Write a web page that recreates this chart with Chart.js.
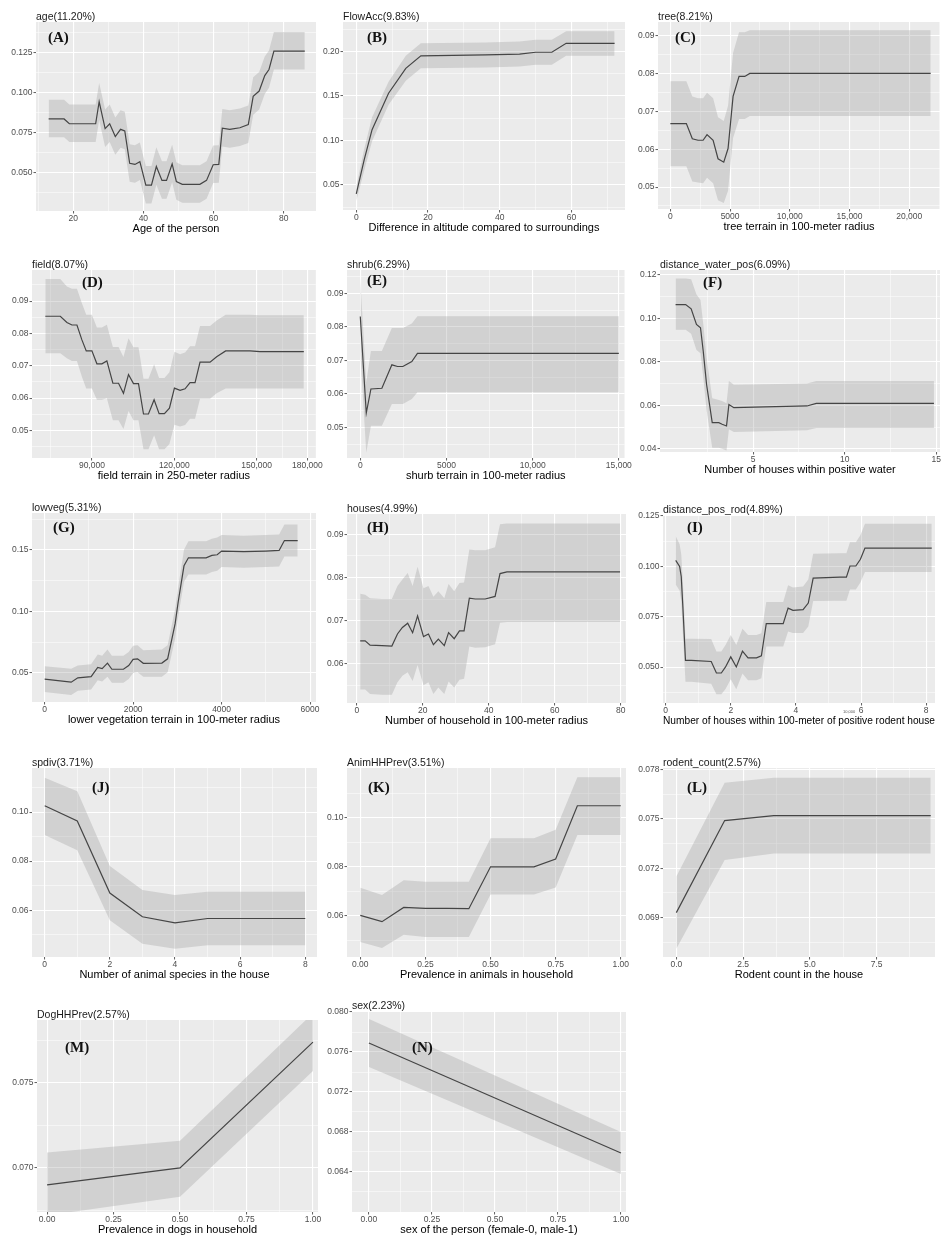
<!DOCTYPE html>
<html><head><meta charset="utf-8">
<script src="https://cdn.jsdelivr.net/npm/chart.js@4.4.0/dist/chart.umd.min.js"></script>
<style>
html,body{margin:0;padding:0;background:#fff;}
body{width:942px;height:1248px;position:relative;overflow:hidden;font-family:"Liberation Sans",Arial,sans-serif;}
.ttl{position:absolute;font-size:10.5px;color:#1a1a1a;white-space:nowrap;line-height:1;}
.let{position:absolute;font-family:"Liberation Serif","Times New Roman",serif;font-weight:bold;font-size:15px;color:#111;line-height:1;white-space:nowrap;}
.tiny{position:absolute;font-size:4px;color:#555;line-height:1;}
canvas{position:absolute;}
</style></head><body>
<script>
// ---------- DATA ----------
// (A) age
const ageX = [13,17.4,18.9,26.4,27.4,29.1,30.4,32,33.5,34.7,36.1,37.6,39,40.7,42.3,43.7,45.3,46.6,48.2,49.4,51.1,56.1,58,59.9,61.5,62.5,64.6,67.5,69.9,71.3,73,74.6,75.8,77.2,86];
const ageMean = [0.0835,0.0835,0.0805,0.0805,0.0943,0.0775,0.0805,0.0725,0.077,0.076,0.0557,0.055,0.0567,0.042,0.042,0.0537,0.045,0.045,0.0553,0.0443,0.0425,0.0425,0.045,0.0548,0.055,0.0777,0.077,0.078,0.080,0.0977,0.101,0.1107,0.1145,0.126,0.126];
const ageHi = [0.0955,0.0955,0.0925,0.0925,0.106,0.0895,0.0925,0.0845,0.089,0.088,0.0677,0.067,0.0687,0.054,0.054,0.0657,0.057,0.057,0.0673,0.0563,0.0545,0.0545,0.057,0.0668,0.067,0.0897,0.089,0.090,0.092,0.1097,0.113,0.1227,0.1265,0.138,0.138];
const ageLo = [0.072,0.072,0.069,0.069,0.0828,0.066,0.069,0.061,0.0655,0.0645,0.0442,0.0435,0.0452,0.0305,0.0305,0.0422,0.0335,0.0335,0.0438,0.0328,0.031,0.031,0.0335,0.0433,0.0435,0.0662,0.0655,0.0665,0.0685,0.0862,0.0895,0.0992,0.103,0.1145,0.1145];
const ageXTicks = [20,40,60,80], ageXLabels = ['20','40','60','80'];
const ageYTicks = [0.05,0.075,0.1,0.125], ageYLabels = ['0.050','0.075','0.100','0.125'];

// (B) FlowAcc
const flowX = [0,2.2,4.4,9,13.8,18,36,45.5,50,54.5,58.5,72];
const flowMean = [0.040,0.078,0.112,0.153,0.181,0.195,0.196,0.197,0.199,0.199,0.209,0.209];
const flowHi = [0.048,0.09,0.126,0.166,0.195,0.209,0.21,0.211,0.213,0.213,0.2225,0.2225];
const flowLo = [0.032,0.066,0.099,0.14,0.167,0.181,0.182,0.183,0.185,0.185,0.195,0.195];
const flowXTicks = [0,20,40,60], flowXLabels = ['0','20','40','60'];
const flowYTicks = [0.05,0.10,0.15,0.20], flowYLabels = ['0.05','0.10','0.15','0.20'];

// (C) tree
const treeX = [0,1340,1840,2320,2740,3070,3580,3990,4470,4830,5250,5750,6230,6650,21790];
const treeMean = [0.0668,0.0668,0.0628,0.0624,0.0624,0.0639,0.0624,0.0575,0.0566,0.0602,0.0740,0.0793,0.0793,0.0801,0.0801];
const treeHi = [0.078,0.078,0.074,0.0735,0.0735,0.075,0.0735,0.0685,0.0675,0.0715,0.0855,0.091,0.091,0.0915,0.0915];
const treeLo = [0.0555,0.0555,0.0515,0.0512,0.051,0.0525,0.051,0.0465,0.0458,0.049,0.063,0.068,0.068,0.0688,0.0688];
const treeXTicks = [0,5000,10000,15000,20000], treeXLabels = ['0','5000','10,000','15,000','20,000'];
const treeYTicks = [0.05,0.06,0.07,0.08,0.09], treeYLabels = ['0.05','0.06','0.07','0.08','0.09'];

// (D) field
const fieldX = [73030,78490,80900,82730,84550,86360,87940,90000,91820,93640,95450,97640,99700,101500,103330,105150,106970,108790,110600,112660,114480,116420,118240,120060,122120,123940,125750,127570,129390,133030,135450,138720,147570,151200,167200];
const fieldMean = [0.0853,0.0853,0.0834,0.0826,0.0826,0.078,0.0746,0.0746,0.0706,0.0706,0.0715,0.0646,0.0646,0.0615,0.0673,0.0645,0.0645,0.0551,0.0551,0.0595,0.0552,0.0552,0.0569,0.0631,0.0624,0.0629,0.0648,0.0648,0.0711,0.0711,0.0728,0.0746,0.0746,0.0744,0.0744];
const fieldHi = [0.0968,0.0968,0.0945,0.0938,0.0938,0.0893,0.0858,0.0858,0.0818,0.0818,0.0827,0.0758,0.0758,0.0727,0.0785,0.0757,0.0757,0.066,0.066,0.0705,0.0662,0.0662,0.068,0.0743,0.0736,0.0741,0.076,0.076,0.0823,0.0823,0.084,0.0858,0.0858,0.0856,0.0856];
const fieldLo = [0.0739,0.0739,0.0723,0.0715,0.0715,0.0666,0.063,0.063,0.0595,0.0595,0.06,0.0532,0.0532,0.0505,0.056,0.0532,0.0532,0.0442,0.0442,0.0485,0.0442,0.0442,0.0458,0.0518,0.0512,0.0517,0.0536,0.0536,0.0598,0.0598,0.0615,0.063,0.063,0.063,0.063];
const fieldXTicks = [90000,120000,150000,168500], fieldXLabels = ['90,000','120,000','150,000','180,000'];
const fieldYTicks = [0.05,0.06,0.07,0.08,0.09], fieldYLabels = ['0.05','0.06','0.07','0.08','0.09'];

// (E) shrub
const shrubX = [0,347,617,1253,1832,2160,2470,2990,3316,15000];
const shrubMean = [0.0831,0.0543,0.0615,0.0617,0.0687,0.0682,0.0682,0.0697,0.0721,0.0721];
const shrubHi = [0.0945,0.0635,0.0728,0.0728,0.0797,0.0797,0.0797,0.081,0.0832,0.0832];
const shrubLo = [0.072,0.0425,0.0505,0.0505,0.057,0.057,0.057,0.0585,0.0605,0.0605];
const shrubXTicks = [0,5000,10000,15000], shrubXLabels = ['0','5000','10,000','15,000'];
const shrubYTicks = [0.05,0.06,0.07,0.08,0.09], shrubYLabels = ['0.05','0.06','0.07','0.08','0.09'];

// (F) distance_water_pos
const waterX = [0.77,1.32,1.62,1.91,2.13,2.28,2.46,2.77,3.13,3.31,3.55,3.68,3.95,7.94,8.45,14.87];
const waterMean = [0.1064,0.1064,0.1044,0.0972,0.0957,0.0849,0.0697,0.052,0.052,0.0513,0.0505,0.0604,0.0589,0.0597,0.0609,0.0609];
const waterHi = [0.1184,0.1184,0.118,0.111,0.1085,0.0975,0.082,0.0632,0.0625,0.062,0.061,0.0712,0.0695,0.07,0.0712,0.0712];
const waterLo = [0.0948,0.0948,0.093,0.0855,0.084,0.073,0.058,0.0405,0.0405,0.04,0.0392,0.049,0.0477,0.0485,0.0496,0.0496];
const waterXTicks = [5,10,15], waterXLabels = ['5','10','15'];
const waterYTicks = [0.04,0.06,0.08,0.10,0.12], waterYLabels = ['0.04','0.06','0.08','0.10','0.12'];

// (G) lowveg
const lowX = [0,300,600,750,1050,1200,1300,1420,1520,1780,1900,2000,2100,2230,2650,2780,2950,3020,3150,3250,3650,3780,3900,4000,4500,5000,5300,5420,5720];
const lowMean = [0.045,0.0438,0.0425,0.046,0.047,0.0545,0.0535,0.058,0.053,0.053,0.056,0.061,0.0615,0.0578,0.058,0.0615,0.09,0.108,0.137,0.1435,0.1435,0.1455,0.146,0.149,0.1485,0.149,0.1495,0.1575,0.1575];
const lowHi = [0.0555,0.0545,0.0535,0.056,0.057,0.065,0.064,0.069,0.064,0.064,0.067,0.072,0.0725,0.0685,0.069,0.0725,0.102,0.12,0.15,0.157,0.157,0.159,0.16,0.162,0.1615,0.162,0.1625,0.1705,0.1705];
const lowLo = [0.0345,0.0333,0.032,0.0355,0.0365,0.044,0.043,0.047,0.042,0.042,0.045,0.050,0.0505,0.047,0.047,0.0505,0.078,0.096,0.124,0.130,0.130,0.132,0.133,0.136,0.1355,0.136,0.1365,0.1445,0.1445];
const lowXTicks = [0,2000,4000,6000], lowXLabels = ['0','2000','4000','6000'];
const lowYTicks = [0.05,0.10,0.15], lowYLabels = ['0.05','0.10','0.15'];

// (H) houses
const housesX = [1,2.5,4,7.6,10.6,12.3,13.8,15.4,16.9,18.4,20.2,21.7,23.2,24.7,26.5,27.8,29.5,31.1,32.5,34.1,35.9,38.9,41.9,43.4,45.5,79.8];
const housesMean = [0.0653,0.0653,0.0643,0.0642,0.0641,0.0669,0.0684,0.0694,0.0672,0.0711,0.0663,0.0669,0.0644,0.0657,0.0642,0.0672,0.0658,0.0676,0.0676,0.0752,0.075,0.075,0.0756,0.0809,0.0813,0.0813];
const housesHi = [0.0762,0.076,0.0752,0.075,0.075,0.078,0.0795,0.081,0.078,0.0825,0.0775,0.078,0.0755,0.0768,0.0752,0.0785,0.0768,0.0787,0.0788,0.0865,0.0863,0.0863,0.087,0.0923,0.0925,0.0925];
const housesLo = [0.054,0.054,0.053,0.0528,0.0528,0.0557,0.0572,0.058,0.056,0.0597,0.055,0.0557,0.053,0.0545,0.053,0.0559,0.0545,0.0563,0.0565,0.064,0.0637,0.0638,0.0645,0.0695,0.0697,0.0697];
const housesXTicks = [0,20,40,60,80], housesXLabels = ['0','20','40','60','80'];
const housesYTicks = [0.06,0.07,0.08,0.09], housesYLabels = ['0.06','0.07','0.08','0.09'];

// (I) distance_pos_rod
const rodDistX = [0.31,0.43,0.48,0.53,0.61,0.79,1.40,1.56,1.71,1.84,2.0,2.17,2.36,2.53,2.79,2.94,3.09,3.40,3.61,3.76,3.91,4.22,4.38,4.53,5.35,5.55,5.66,5.84,5.98,6.12,8.17];
const rodDistMean = [0.103,0.100,0.095,0.0798,0.0534,0.0534,0.0528,0.0471,0.0471,0.0501,0.0551,0.0501,0.0579,0.0546,0.0546,0.0556,0.0716,0.0716,0.0716,0.0793,0.0782,0.0785,0.0818,0.0942,0.0947,0.0947,0.1002,0.1002,0.1035,0.1091,0.1091];
const rodDistHi = [0.115,0.111,0.106,0.092,0.0641,0.0641,0.064,0.0578,0.0578,0.061,0.066,0.061,0.069,0.066,0.066,0.0668,0.0823,0.0823,0.0823,0.0906,0.0895,0.09,0.0935,0.1063,0.1065,0.1065,0.112,0.112,0.1155,0.1211,0.1211];
const rodDistLo = [0.091,0.088,0.083,0.067,0.0427,0.0427,0.0418,0.0365,0.0365,0.0392,0.044,0.039,0.0468,0.0435,0.0435,0.0445,0.0603,0.0603,0.0603,0.0677,0.067,0.067,0.0702,0.0828,0.083,0.083,0.0885,0.0885,0.092,0.0972,0.0972];
const rodDistXTicks = [0,2,4,6,8], rodDistXLabels = ['0','2','4','6','8'];
const rodDistYTicks = [0.05,0.075,0.1,0.125], rodDistYLabels = ['0.050','0.075','0.100','0.125'];

// (J) spdiv
const spX = [0,1,2,3,4,5,6,7,8];
const spMean = [0.1026,0.0964,0.067,0.0573,0.0548,0.0566,0.0566,0.0566,0.0566];
const spHi = [0.114,0.1085,0.078,0.0682,0.0662,0.0675,0.0675,0.0675,0.0675];
const spLo = [0.0907,0.0844,0.0559,0.0463,0.0443,0.0457,0.0457,0.0457,0.0457];
const spXTicks = [0,2,4,6,8], spXLabels = ['0','2','4','6','8'];
const spYTicks = [0.06,0.08,0.10], spYLabels = ['0.06','0.08','0.10'];

// (K) AnimHHPrev
const animX = [0,0.0833,0.1667,0.25,0.3333,0.4167,0.5,0.5833,0.6667,0.75,0.8333,0.9167,1];
const animMean = [0.0601,0.0575,0.0633,0.0629,0.0629,0.0628,0.0799,0.0799,0.0799,0.0831,0.1048,0.1048,0.1048];
const animHi = [0.0714,0.0684,0.0744,0.0738,0.0738,0.0738,0.0915,0.0915,0.0915,0.095,0.1164,0.1164,0.1164];
const animLo = [0.0492,0.0468,0.0522,0.0513,0.0513,0.0513,0.0686,0.0686,0.0686,0.0715,0.0929,0.0929,0.0929];
const propXTicks = [0,0.25,0.5,0.75,1], propXLabels = ['0.00','0.25','0.50','0.75','1.00'];
const animYTicks = [0.06,0.08,0.10], animYLabels = ['0.06','0.08','0.10'];

// (L) rodent_count
const rodX = [0,1.81,3.65,9.53];
const rodMean = [0.0693,0.0749,0.0752,0.0752];
const rodHi = [0.0715,0.0772,0.0775,0.0775];
const rodLo = [0.0671,0.0725,0.0729,0.0729];
const rodXTicks = [0,2.5,5,7.5], rodXLabels = ['0.0','2.5','5.0','7.5'];
const rodYTicks = [0.069,0.072,0.075,0.078], rodYLabels = ['0.069','0.072','0.075','0.078'];

// (M) DogHHPrev
const dogX = [0,0.5,1];
const dogMean = [0.0690,0.0700,0.0774];
const dogHi = [0.0709,0.0716,0.0791];
const dogLo = [0.0672,0.0683,0.0757];
const dogYTicks = [0.070,0.075], dogYLabels = ['0.070','0.075'];

// (N) sex
const sexX = [0,1];
const sexMean = [0.0769,0.0659];
const sexHi = [0.0793,0.0680];
const sexLo = [0.0745,0.0638];
const sexYTicks = [0.064,0.068,0.072,0.076,0.080], sexYLabels = ['0.064','0.068','0.072','0.076','0.080'];

// ---------- LAYOUT ----------
const panels = [
 {title:'age(11.20%)', letter:'(A)', lp:[48,30], xTitle:'Age of the person', box:[36,22,316,211], xr:[9.4,89.2], yr:[0.0258,0.1443],
  x:ageX, m:ageMean, hi:ageHi, lo:ageLo, xt:ageXTicks, xl:ageXLabels, yt:ageYTicks, yl:ageYLabels},
 {title:'FlowAcc(9.83%)', letter:'(B)', lp:[367,30], xTitle:'Difference in altitude compared to surroundings', box:[343,22,625,210], xr:[-3.7,74.9], yr:[0.0218,0.233],
  x:flowX, m:flowMean, hi:flowHi, lo:flowLo, xt:flowXTicks, xl:flowXLabels, yt:flowYTicks, yl:flowYLabels},
 {title:'tree(8.21%)', letter:'(C)', lp:[675,30], xTitle:'tree terrain in 100-meter radius', box:[658,22,940,209], xr:[-1034,22570], yr:[0.0442,0.0937],
  x:treeX, m:treeMean, hi:treeHi, lo:treeLo, xt:treeXTicks, xl:treeXLabels, yt:treeYTicks, yl:treeYLabels},
 {title:'field(8.07%)', letter:'(D)', lp:[82,275], xTitle:'field terrain in 250-meter radius', box:[32,270,316,458], xr:[68180,171575], yr:[0.0415,0.0996],
  x:fieldX, m:fieldMean, hi:fieldHi, lo:fieldLo, xt:fieldXTicks, xl:fieldXLabels, yt:fieldYTicks, yl:fieldYLabels},
 {title:'shrub(6.29%)', letter:'(E)', lp:[367,273], xTitle:'shurb terrain in 100-meter radius', box:[347,270,625,458], xr:[-771,15330], yr:[0.0409,0.097],
  x:shrubX, m:shrubMean, hi:shrubHi, lo:shrubLo, xt:shrubXTicks, xl:shrubXLabels, yt:shrubYTicks, yl:shrubYLabels},
 {title:'distance_water_pos(6.09%)', letter:'(F)', lp:[703,275], xTitle:'Number of houses within positive water', box:[660,270,940,452], xr:[-0.08,15.2], yr:[0.0385,0.1223],
  x:waterX, m:waterMean, hi:waterHi, lo:waterLo, xt:waterXTicks, xl:waterXLabels, yt:waterYTicks, yl:waterYLabels},
 {title:'lowveg(5.31%)', letter:'(G)', lp:[53,520], xTitle:'lower vegetation terrain in 100-meter radius', box:[32,513,316,702], xr:[-286,6134], yr:[0.0264,0.1799],
  x:lowX, m:lowMean, hi:lowHi, lo:lowLo, xt:lowXTicks, xl:lowXLabels, yt:lowYTicks, yl:lowYLabels},
 {title:'houses(4.99%)', letter:'(H)', lp:[367,520], xTitle:'Number of household in 100-meter radius', box:[347,514,626,703], xr:[-3.0,81.6], yr:[0.0509,0.0947],
  x:housesX, m:housesMean, hi:housesHi, lo:housesLo, xt:housesXTicks, xl:housesXLabels, yt:housesYTicks, yl:housesYLabels},
 {title:'distance_pos_rod(4.89%)', letter:'(I)', lp:[687,520], xTitle:'Number of houses within 100-meter of positive rodent house', box:[663,515,935,703], xr:[-0.08,8.27], yr:[0.0322,0.1255],
  x:rodDistX, m:rodDistMean, hi:rodDistHi, lo:rodDistLo, xt:rodDistXTicks, xl:rodDistXLabels, yt:rodDistYTicks, yl:rodDistYLabels},
 {title:'spdiv(3.71%)', letter:'(J)', lp:[92,780], xTitle:'Number of animal species in the house', box:[32,768,317,957], xr:[-0.39,8.36], yr:[0.0409,0.118],
  x:spX, m:spMean, hi:spHi, lo:spLo, xt:spXTicks, xl:spXLabels, yt:spYTicks, yl:spYLabels},
 {title:'AnimHHPrev(3.51%)', letter:'(K)', lp:[368,780], xTitle:'Prevalence in animals in household', box:[347,768,626,957], xr:[-0.051,1.02], yr:[0.0431,0.1202],
  x:animX, m:animMean, hi:animHi, lo:animLo, xt:propXTicks, xl:propXLabels, yt:animYTicks, yl:animYLabels},
 {title:'rodent_count(2.57%)', letter:'(L)', lp:[687,780], xTitle:'Rodent count in the house', box:[663,768,935,957], xr:[-0.5,9.69], yr:[0.0666,0.0781],
  x:rodX, m:rodMean, hi:rodHi, lo:rodLo, xt:rodXTicks, xl:rodXLabels, yt:rodYTicks, yl:rodYLabels},
 {title:'DogHHPrev(2.57%)', letter:'(M)', lp:[65,1040], xTitle:'Prevalence in dogs in household', box:[37,1020,318,1212], xr:[-0.038,1.019], yr:[0.0674,0.0787],
  x:dogX, m:dogMean, hi:dogHi, lo:dogLo, xt:propXTicks, xl:propXLabels, yt:dogYTicks, yl:dogYLabels},
 {title:'sex(2.23%)', letter:'(N)', lp:[412,1040], xTitle:'sex of the person (female-0, male-1)', box:[352,1011,626,1212], xr:[-0.067,1.02], yr:[0.0600,0.0801],
  x:sexX, m:sexMean, hi:sexHi, lo:sexLo, xt:propXTicks, xl:propXLabels, yt:sexYTicks, yl:sexYLabels}
];

const YW = 34, PADT = 8, PADR = 8, XH = 23;
const FONT = "'Liberation Sans', Arial, sans-serif";
Chart.defaults.font.family = FONT;

const bgPlugin = {
  id: 'panelBg',
  beforeDraw(chart) {
    const a = chart.chartArea, ctx = chart.ctx;
    ctx.save();
    ctx.fillStyle = '#ebebeb';
    ctx.fillRect(a.left, a.top, a.right - a.left, a.bottom - a.top);
    ctx.restore();
  }
};

function buildTicks(majors, labels, min, max) {
  const out = [];
  const half = majors.length > 1 ? (majors[1] - majors[0]) / 2 : 1;
  const first = majors[0] - half;
  if (first >= min) out.push({value: first, isMaj: false, lbl: ''});
  majors.forEach((v, i) => {
    if (v >= min && v <= max) out.push({value: v, isMaj: true, lbl: labels[i]});
    if (i < majors.length - 1) {
      const mid = (v + majors[i + 1]) / 2;
      if (mid >= min && mid <= max) out.push({value: mid, isMaj: false, lbl: ''});
    }
  });
  const last = majors[majors.length - 1] + half;
  if (last <= max) out.push({value: last, isMaj: false, lbl: ''});
  return out;
}

function axis(ticksArr, labelsArr, range, isX, titleText) {
  const o = {
    type: 'linear',
    min: range[0], max: range[1],
    afterBuildTicks: (s) => { s.ticks = buildTicks(ticksArr, labelsArr, range[0], range[1]); },
    afterFit: (s) => { if (isX) s.height = XH; else s.width = YW; },
    border: {display: false},
    grid: {
      color: '#ffffff',
      lineWidth: (c) => (c.tick && c.tick.isMaj) ? 1.1 : 0.5,
      drawTicks: true,
      tickLength: 2.5,
      tickWidth: 0.8,
      tickColor: (c) => (c.tick && c.tick.isMaj) ? '#333333' : 'rgba(0,0,0,0)'
    },
    ticks: {
      autoSkip: false, maxRotation: 0, minRotation: 0, padding: 1,
      color: '#4d4d4d',
      font: {size: 8.5, lineHeight: 1},
      callback: (v, i, t) => (t[i] && t[i].lbl) ? t[i].lbl : ''
    }
  };
  if (isX) {
    o.title = {display: true, text: titleText, color: '#000', font: {size: 11, lineHeight: 1}, padding: {top: 0, bottom: 0}};
  }
  return o;
}

panels.forEach((p) => {
  const [pl, pt, pr, pb] = p.box;
  const W = (pr - pl) + YW + PADR;
  const H = (pb - pt) + PADT + XH;
  const cv = document.createElement('canvas');
  cv.width = W; cv.height = H;
  cv.style.left = (pl - YW) + 'px';
  cv.style.top = (pt - PADT) + 'px';
  cv.style.width = W + 'px'; cv.style.height = H + 'px';
  document.body.appendChild(cv);

  const t = document.createElement('div');
  t.className = 'ttl'; t.textContent = p.title;
  t.style.left = pl + 'px'; t.style.top = (pt - 11) + 'px';
  document.body.appendChild(t);

  const l = document.createElement('div');
  l.className = 'let'; l.textContent = p.letter;
  l.style.left = p.lp[0] + 'px'; l.style.top = p.lp[1] + 'px';
  document.body.appendChild(l);

  const pts = (ys) => p.x.map((xv, i) => ({x: xv, y: ys[i]}));
  new Chart(cv, {
    type: 'line',
    data: {
      datasets: [
        {data: pts(p.m), borderColor: '#454545', borderWidth: 1.2, pointRadius: 0, tension: 0, fill: false},
        {data: pts(p.hi), borderColor: 'rgba(0,0,0,0)', borderWidth: 0, pointRadius: 0, tension: 0, fill: '+1', backgroundColor: 'rgba(150,150,150,0.30)'},
        {data: pts(p.lo), borderColor: 'rgba(0,0,0,0)', borderWidth: 0, pointRadius: 0, tension: 0, fill: false}
      ]
    },
    options: {
      responsive: false, animation: false, devicePixelRatio: 1,
      layout: {padding: {top: PADT, right: PADR, left: 0, bottom: 0}},
      plugins: {legend: {display: false}, tooltip: {enabled: false}, title: {display: false}},
      scales: {
        x: axis(p.xt, p.xl, p.xr, true, p.xTitle),
        y: axis(p.yt, p.yl, p.yr, false, '')
      }
    },
    plugins: [bgPlugin]
  });
});

const tiny = document.createElement('div');
tiny.className = 'tiny'; tiny.textContent = '10,000';
tiny.style.left = '843px'; tiny.style.top = '710px';
document.body.appendChild(tiny);
</script>
</body></html>
